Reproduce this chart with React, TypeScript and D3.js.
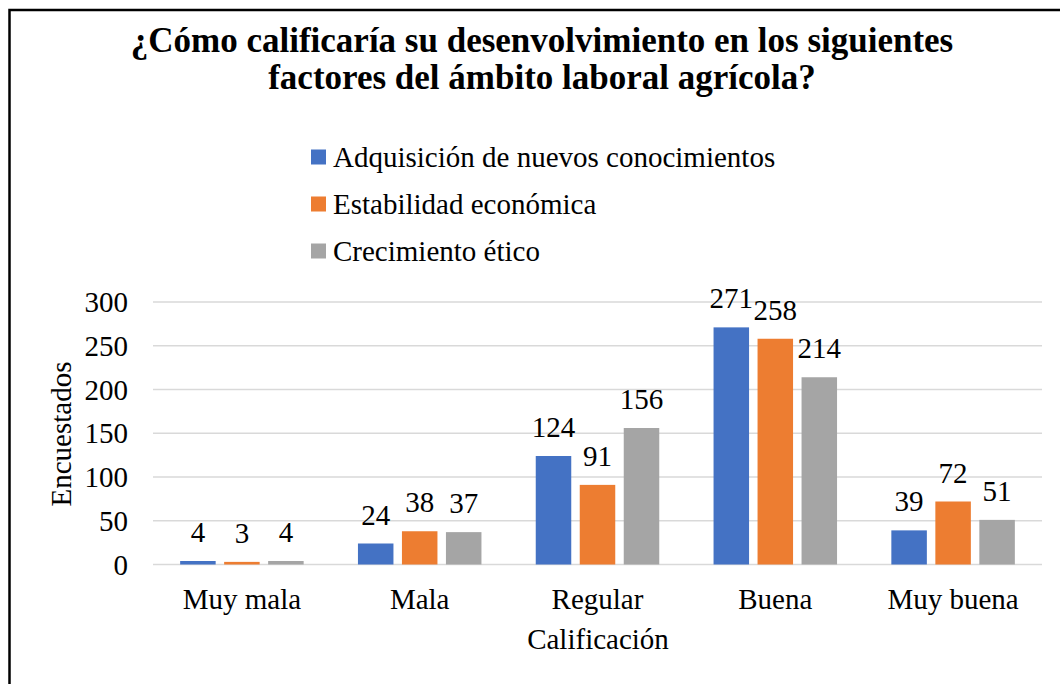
import React from 'react';
import * as d3 from 'd3';

const categories = ['Muy mala', 'Mala', 'Regular', 'Buena', 'Muy buena'];
const seriesNames = ['Adquisición de nuevos conocimientos', 'Estabilidad económica', 'Crecimiento ético'];
const adquisicion = [4, 24, 124, 271, 39];
const estabilidad = [3, 38, 91, 258, 72];
const crecimiento = [4, 37, 156, 214, 51];
const colors = ['#4472C4', '#ED7D31', '#A5A5A5'];
const yTicks = [0, 50, 100, 150, 200, 250, 300];
const titleLines = ['¿Cómo calificaría su desenvolvimiento en los siguientes', 'factores del ámbito laboral agrícola?'];

const W = 1060;
const H = 684;
const font = '"Liberation Serif", "Times New Roman", serif';
const fs = 29;

const App = () => {
    const seriesValues = [adquisicion, estabilidad, crecimiento];

    // plot area
    const x0 = d3.scaleBand<string>().domain(categories).range([153, 1042]);
    const x1 = d3.scaleBand<number>()
        .domain([0, 1, 2])
        .range([0, x0.bandwidth()])
        .paddingInner(0.193)
        .paddingOuter(0.617);
    const y = d3.scaleLinear().domain([0, 300]).range([564.5, 302]);

    return (
        <svg width={W} height={H} fontFamily={font} style={{ display: 'block', position: 'absolute', left: 0, top: 0 }}>
            <rect x={0} y={0} width={W} height={H} fill="#fff" />
            {/* chart border (right/bottom fall outside the picture) */}
            <rect x={9.5} y={10} width={W + 20} height={H + 20} fill="none" stroke="#000" strokeWidth={2.5} />

            {titleLines.map((t, i) => (
                <text key={i} x={542} y={52 + i * 37} textAnchor="middle"
                    fontWeight="bold" fontSize={35} fill="#000">{t}</text>
            ))}

            {/* legend */}
            {seriesNames.map((name, i) => (
                <g key={name} transform={`translate(311, ${157 + i * 47})`}>
                    <rect x={0} y={-7.5} width={15} height={15} fill={colors[i]} />
                    <text x={22} y={10} fontSize={fs} fill="#000">{name}</text>
                </g>
            ))}

            {/* gridlines + y ticks */}
            {yTicks.map(t => (
                <g key={t}>
                    <line x1={153} x2={1042} y1={y(t)} y2={y(t)} stroke="#D9D9D9" strokeWidth={1.5} />
                    <text x={128} y={y(t) + 10} textAnchor="end" fontSize={fs} fill="#000">{t}</text>
                </g>
            ))}

            {/* bars */}
            {categories.map((c, ci) => (
                <g key={c} transform={`translate(${x0(c)},0)`}>
                    {seriesValues.map((vals, si) => (
                        <g key={si}>
                            <rect x={x1(si)} y={y(vals[ci])} width={x1.bandwidth()}
                                height={y(0) - y(vals[ci])} fill={colors[si]} />
                            <text x={(x1(si) as number) + x1.bandwidth() / 2} y={y(vals[ci]) - 19}
                                textAnchor="middle" fontSize={fs} fill="#000">{vals[ci]}</text>
                        </g>
                    ))}
                    <text x={x0.bandwidth() / 2} y={609} textAnchor="middle"
                        fontSize={fs} fill="#000">{c}</text>
                </g>
            ))}

            {/* axis titles */}
            <text x={598} y={649} textAnchor="middle" fontSize={fs} fill="#000">Calificación</text>
            <text transform="translate(71, 434) rotate(-90)" textAnchor="middle"
                fontSize={fs} fill="#000">Encuestados</text>
        </svg>
    );
};

export default App;
